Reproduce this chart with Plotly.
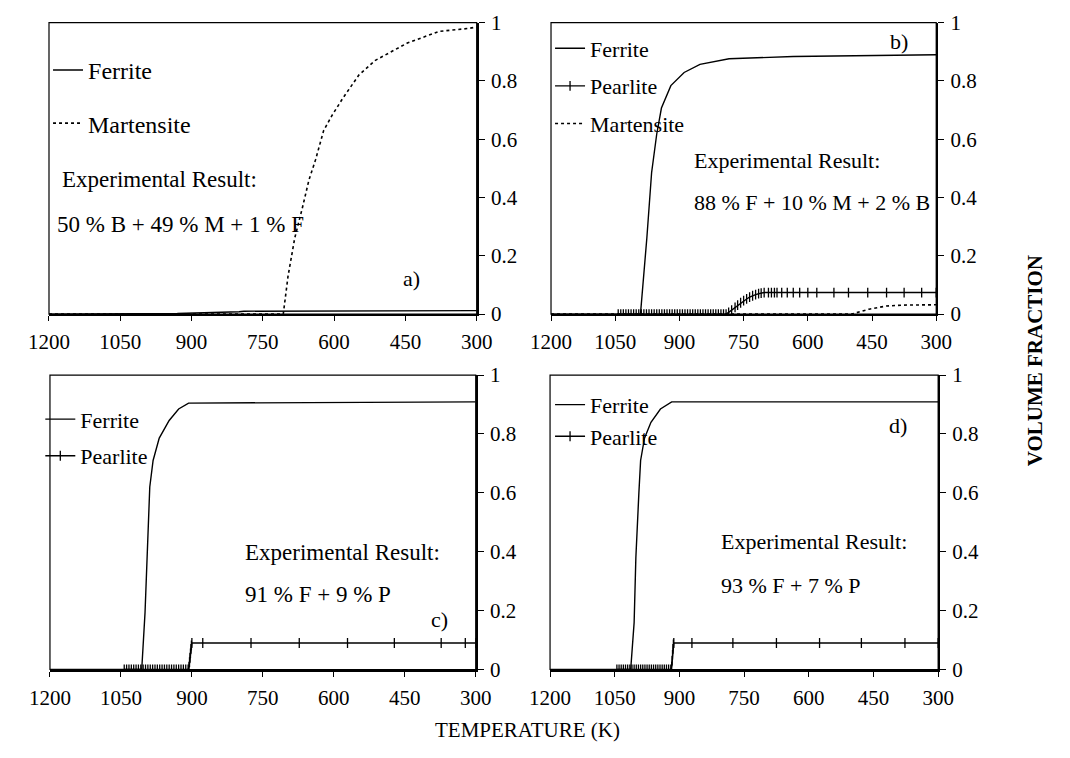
import plotly.graph_objects as go

FONT = "Liberation Serif, Times New Roman, Times, DejaVu Serif, serif"
W, H = 1070, 758

# ---------------- data ----------------
x_tick_vals = [1200, 1050, 900, 750, 600, 450, 300]
x_tick_text = ["1200", "1050", "900", "750", "600", "450", "300"]
y_tick_vals = [0, 0.2, 0.4, 0.6, 0.8, 1]
y_tick_text = ["0", "0.2", "0.4", "0.6", "0.8", "1"]

# panel a
a_ferrite_T = [1200, 930, 800, 790, 300]
a_ferrite_V = [0, 0.002, 0.008, 0.01, 0.012]
a_mart_T = [1200, 707, 697, 683, 666, 653, 639, 622, 605, 582, 548, 514, 446, 379, 318, 300]
a_mart_V = [0, 0, 0.13, 0.26, 0.37, 0.46, 0.53, 0.63, 0.68, 0.74, 0.82, 0.87, 0.93, 0.97, 0.98, 0.985]

# panel b
b_ferrite_T = [1200, 991, 976, 965, 953, 942, 920, 889, 852, 784, 634, 300]
b_ferrite_V = [0, 0, 0.263, 0.485, 0.618, 0.707, 0.784, 0.829, 0.857, 0.876, 0.884, 0.89]
b_pearl_T = [1043, 1037, 1031, 1025, 1019, 1013, 1007, 1001, 995, 989, 983, 977, 971, 965,
             959, 953, 947, 941, 935, 929, 923, 917, 911, 905, 899, 893, 887, 881, 875, 869,
             863, 857, 851, 845, 839, 833, 827, 821, 815, 809, 803, 797, 791,
             785, 778, 770, 764, 757, 750, 743, 736, 729, 722, 715, 709, 702,
             692, 685, 678, 672, 661, 648, 634, 619, 600, 579, 539, 505, 460, 416, 375, 334, 300]
b_pearl_V = [0, 0, 0, 0, 0, 0, 0, 0, 0, 0, 0, 0, 0, 0,
             0, 0, 0, 0, 0, 0, 0, 0, 0, 0, 0, 0, 0, 0, 0, 0,
             0, 0, 0, 0, 0, 0, 0, 0, 0, 0, 0, 0, 0,
             0.006, 0.014, 0.023, 0.031, 0.039, 0.046, 0.052, 0.058, 0.063, 0.067, 0.070, 0.072, 0.074,
             0.074, 0.074, 0.074, 0.074, 0.074, 0.074, 0.074, 0.074, 0.074, 0.074, 0.074, 0.074,
             0.074, 0.074, 0.074, 0.074, 0.074]
b_mart_T = [1200, 498, 457, 416, 375, 300]
b_mart_V = [0, 0, 0.017, 0.028, 0.031, 0.032]

# panel c
c_ferrite_T = [1200, 1006, 999, 992, 989, 982, 969, 948, 928, 907, 300]
c_ferrite_V = [0, 0, 0.194, 0.49, 0.62, 0.71, 0.786, 0.846, 0.885, 0.905, 0.909]
c_pearl_T = [1043, 1038, 1033, 1028, 1023, 1018, 1013, 1008, 1003, 998, 993, 988, 983, 978,
             973, 968, 963, 958, 953, 948, 943, 938, 933, 928, 923, 918, 913, 908,
             906, 905, 904, 903, 902, 901, 900,
             877, 775, 673, 571, 472, 373, 322, 300]
c_pearl_V = [0, 0, 0, 0, 0, 0, 0, 0, 0, 0, 0, 0, 0, 0,
             0, 0, 0, 0, 0, 0, 0, 0, 0, 0, 0, 0, 0, 0,
             0.01, 0.025, 0.04, 0.055, 0.07, 0.082, 0.09,
             0.09, 0.09, 0.09, 0.09, 0.09, 0.09, 0.09, 0.09]

# panel d
d_ferrite_T = [1200, 1013, 1005, 1001, 994, 990, 981, 966, 944, 918, 300]
d_ferrite_V = [0, 0, 0.16, 0.38, 0.6, 0.71, 0.786, 0.84, 0.885, 0.909, 0.909]
d_pearl_T = [1045, 1040, 1035, 1030, 1025, 1020, 1015, 1010, 1005, 1000, 995, 990, 985,
             980, 975, 970, 965, 960, 955, 950, 945, 940, 935, 930, 925, 920,
             918, 917, 916, 915, 914, 913,
             871, 776, 675, 575, 478, 377, 300]
d_pearl_V = [0, 0, 0, 0, 0, 0, 0, 0, 0, 0, 0, 0, 0,
             0, 0, 0, 0, 0, 0, 0, 0, 0, 0, 0, 0, 0,
             0.01, 0.03, 0.05, 0.07, 0.085, 0.09,
             0.09, 0.09, 0.09, 0.09, 0.09, 0.09, 0.09]

panel_labels = ["a)", "b)", "c)", "d)"]
exp_results = ["50 % B + 49 % M + 1 % F", "88 % F + 10 % M + 2 % B",
               "91 % F + 9 % P", "93 % F + 7 % P"]

# ---------------- layout helpers ----------------
def fx(px):
    return px / W

def fy(py):
    return 1 - py / H

# pixel boxes of the four plot areas (left, right, top, bottom)
boxes = [(29, 472, 11, 312), (549, 948, 11, 312), (30, 471, 375, 679), (548, 950, 375, 679)]

fig = go.Figure()

line_w = 1.4
pearl_marker = dict(symbol="line-ns", size=7, color="black", line=dict(width=1.3, color="black"))


def add(T, V, idx, name, kind, legend_show=True):
    sfx = "" if idx == 1 else str(idx)
    kw = dict(x=T, y=V, name=name, xaxis="x" + sfx, yaxis="y" + sfx,
              legend="legend" + sfx, legendgroup=f"{name}{idx}", showlegend=legend_show)
    if kind == "solid":
        kw.update(mode="lines", line=dict(color="black", width=line_w))
    elif kind == "dot":
        kw.update(mode="lines", line=dict(color="black", width=1.6, dash="dot"))
    else:
        kw.update(mode="lines+markers", line=dict(color="black", width=line_w), marker=pearl_marker)
    fig.add_trace(go.Scatter(**kw))


add(a_ferrite_T, a_ferrite_V, 1, "Ferrite", "solid")
add(a_mart_T, a_mart_V, 1, "Martensite", "dot")

add(b_ferrite_T, b_ferrite_V, 2, "Ferrite", "solid")
add(b_pearl_T, b_pearl_V, 2, "Pearlite", "pearl")
add(b_mart_T, b_mart_V, 2, "Martensite", "dot")

add(c_ferrite_T, c_ferrite_V, 3, "Ferrite", "solid")
add(c_pearl_T, c_pearl_V, 3, "Pearlite", "pearl")

add(d_ferrite_T, d_ferrite_V, 4, "Ferrite", "solid")
add(d_pearl_T, d_pearl_V, 4, "Pearlite", "pearl")

layout = dict(
    width=W, height=H,
    margin=dict(l=0, r=0, t=0, b=0),
    paper_bgcolor="white", plot_bgcolor="white",
    font=dict(family=FONT, size=21, color="black"),
    showlegend=True,
)

shapes = []
for i, (l, r, t, b) in enumerate(boxes, start=1):
    sfx = "" if i == 1 else str(i)
    layout["xaxis" + sfx] = dict(
        domain=[fx(l), fx(r)], range=[1200, 300], autorange=False,
        anchor="y" + sfx, tickmode="array", tickvals=x_tick_vals, ticktext=x_tick_text,
        ticks="outside", ticklen=5, tickwidth=1.4, tickcolor="black",
        showline=True, linewidth=2, linecolor="black",
        showgrid=False, zeroline=False, ticklabelstandoff=3,
        tickfont=dict(family=FONT, size=21, color="black"))
    layout["yaxis" + sfx] = dict(
        domain=[fy(b), fy(t)], range=[0, 1], autorange=False,
        anchor="x" + sfx, side="right", tickmode="array", tickvals=y_tick_vals, ticktext=y_tick_text,
        ticks="outside", ticklen=6, tickwidth=1.4, tickcolor="black",
        showline=True, linewidth=2, linecolor="black",
        showgrid=False, zeroline=False, ticklabelstandoff=2,
        tickfont=dict(family=FONT, size=21, color="black"))
    shapes.append(dict(type="rect", xref=f"x{sfx} domain", yref=f"y{sfx} domain",
                       x0=0, x1=1, y0=0, y1=1, line=dict(color="black", width=1.2), layer="above"))
layout["shapes"] = shapes

leg_common = dict(xanchor="left", yanchor="top", bgcolor="rgba(0,0,0,0)", borderwidth=0,
                  traceorder="grouped", itemwidth=30)
layout["legend"] = dict(x=fx(28), y=fy(37), tracegroupgap=19,
                        font=dict(family=FONT, size=24, color="black"), **leg_common)
layout["legend2"] = dict(x=fx(548), y=fy(16), tracegroupgap=6,
                         font=dict(family=FONT, size=22, color="black"), **leg_common)
layout["legend3"] = dict(x=fx(20), y=fy(399), tracegroupgap=5,
                         font=dict(family=FONT, size=22, color="black"), **leg_common)
layout["legend4"] = dict(x=fx(548), y=fy(384), tracegroupgap=0,
                         font=dict(family=FONT, size=22, color="black"), **leg_common)

ann = []
def text(x, y, s, size=22, xanchor="left", **extra):
    ann.append(dict(x=fx(x), y=fy(y), xref="paper", yref="paper", text=s, showarrow=False,
                    xanchor=xanchor, yanchor="middle", font=dict(family=FONT, size=size, color="black"),
                    **extra))

# panel a
text(40, 173, "Experimental Result:", 23)
text(35, 219, exp_results[0], 23)
text(405, 275, panel_labels[0], 22, xanchor="center")
# panel b
text(909, 30, panel_labels[1], 22, xanchor="center")
text(695, 153, "Experimental Result:", 22)
text(695, 197, exp_results[1], 22)
# panel c
text(230, 558, "Experimental Result:", 23)
text(230, 602, exp_results[2], 23)
text(433, 627, panel_labels[2], 22, xanchor="center")
# panel d
text(908, 427, panel_labels[3], 22, xanchor="center")
text(723, 547, "Experimental Result:", 22)
text(723, 592, exp_results[3], 22)

# axis titles
text(1050, 360, "<b>VOLUME FRACTION</b>", 21, xanchor="center", textangle=-90)
text(525, 741, "TEMPERATURE (K)", 21, xanchor="center")

layout["annotations"] = ann
fig.update_layout(**layout)
fig.write_html("out.html")
